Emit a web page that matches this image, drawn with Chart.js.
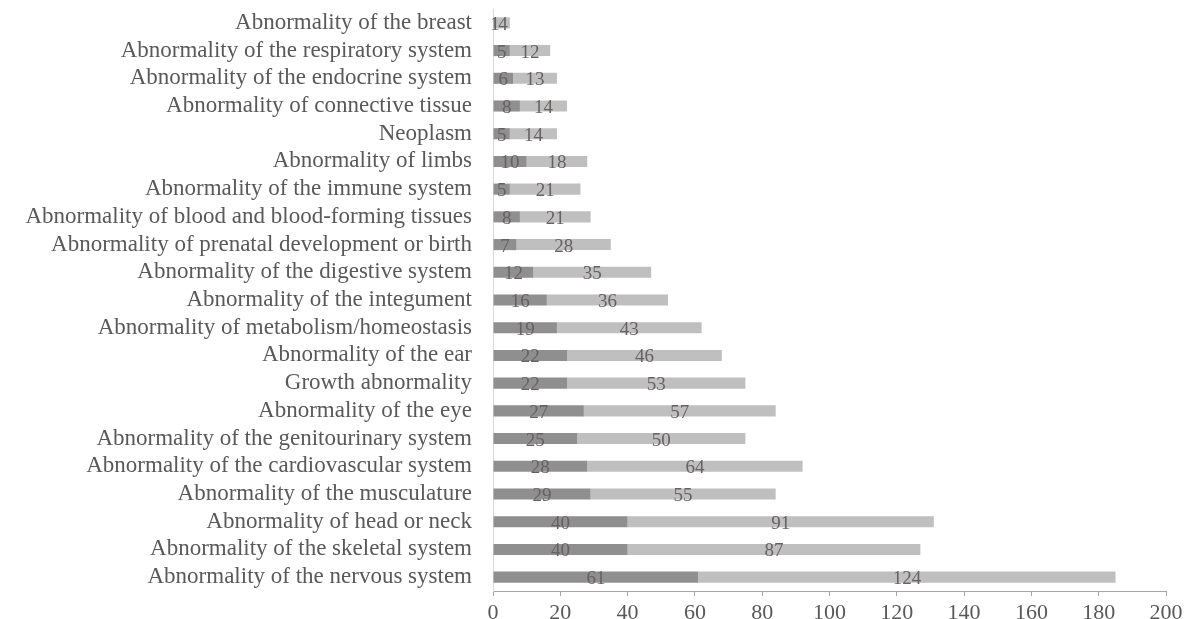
<!DOCTYPE html>
<html>
<head>
<meta charset="utf-8">
<script src="https://cdn.jsdelivr.net/npm/chart.js@4/dist/chart.umd.min.js"></script>
<style>
  html, body { margin: 0; padding: 0; background: #fff; }
  #wrap { width: 1190px; height: 619px; position: relative; }
</style>
</head>
<body>
<div id="wrap"><canvas id="hpoChart"></canvas></div>
<script>
const categories = [
  'Abnormality of the breast',
  'Abnormality of the respiratory system',
  'Abnormality of the endocrine system',
  'Abnormality of connective tissue',
  'Neoplasm',
  'Abnormality of limbs',
  'Abnormality of the immune system',
  'Abnormality of blood and blood-forming tissues',
  'Abnormality of prenatal development or birth',
  'Abnormality of the digestive system',
  'Abnormality of the integument',
  'Abnormality of metabolism/homeostasis',
  'Abnormality of the ear',
  'Growth abnormality',
  'Abnormality of the eye',
  'Abnormality of the genitourinary system',
  'Abnormality of the cardiovascular system',
  'Abnormality of the musculature',
  'Abnormality of head or neck',
  'Abnormality of the skeletal system',
  'Abnormality of the nervous system'
];
const seriesDark  = [1, 5, 6, 8, 5, 10, 5, 8, 7, 12, 16, 19, 22, 22, 27, 25, 28, 29, 40, 40, 61];
const seriesLight = [4, 12, 13, 14, 14, 18, 21, 21, 28, 35, 36, 43, 46, 53, 57, 50, 64, 55, 91, 87, 124];
const xTicks = [0, 20, 40, 60, 80, 100, 120, 140, 160, 180, 200];

const serif = "'Liberation Serif', 'Times New Roman', serif";

// numbers drawn in the middle of each segment
const segmentLabels = {
  id: 'segmentLabels',
  afterDatasetsDraw(chart) {
    const ctx = chart.ctx;
    ctx.save();
    ctx.font = '19px ' + serif;
    ctx.fillStyle = '#666262';
    ctx.textAlign = 'center';
    ctx.textBaseline = 'middle';
    chart.data.datasets.forEach((ds, i) => {
      chart.getDatasetMeta(i).data.forEach((el, j) => {
        ctx.fillText(String(ds.data[j]), (el.x + el.base) / 2, el.y + 2);
      });
    });
    ctx.restore();
  }
};

new Chart(document.getElementById('hpoChart'), {
  type: 'bar',
  data: {
    labels: categories,
    datasets: [
      { label: 'A', data: seriesDark, backgroundColor: '#8f8f8f', barPercentage: 0.4, categoryPercentage: 1 },
      { label: 'B', data: seriesLight, backgroundColor: '#bfbfbf', barPercentage: 0.4, categoryPercentage: 1 }
    ]
  },
  options: {
    indexAxis: 'y',
    responsive: true,
    maintainAspectRatio: false,
    animation: false,
    devicePixelRatio: 1,
    layout: { padding: { top: 9, right: 24, left: 0, bottom: 0 } },
    plugins: { legend: { display: false }, tooltip: { enabled: false } },
    scales: {
      x: {
        stacked: true,
        min: 0,
        max: 200,
        afterBuildTicks: s => { s.ticks = xTicks.map(v => ({ value: v })); },
        afterFit: s => { s.height = 28; s.paddingLeft = 0; s.paddingRight = 0; },
        grid: { drawOnChartArea: false, drawTicks: true, tickLength: 5, color: '#a6a6a6' },
        border: { color: '#a6a6a6', width: 1 },
        ticks: { font: { family: serif, size: 22 }, color: '#595959', padding: 4, maxRotation: 0 }
      },
      y: {
        stacked: true,
        afterFit: s => { s.width = 493; s.paddingTop = 0; s.paddingBottom = 0; },
        grid: { drawOnChartArea: false, drawTicks: false },
        border: { color: '#d9d9d9', width: 1 },
        ticks: { font: { family: serif, size: 23 }, color: '#595959', padding: 21, autoSkip: false }
      }
    }
  },
  plugins: [segmentLabels]
});
</script>
</body>
</html>
